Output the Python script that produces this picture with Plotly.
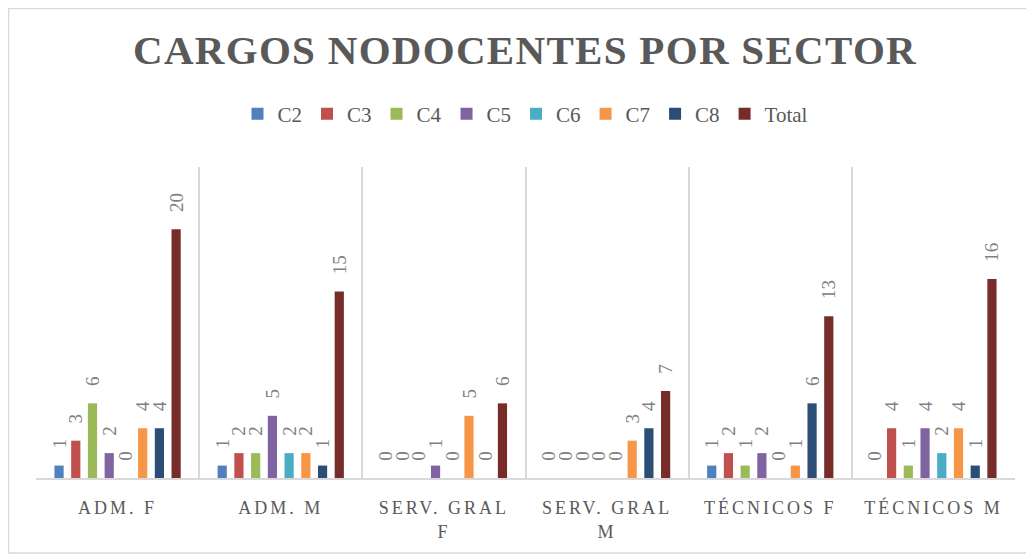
import plotly.graph_objects as go

# categories and series
sectores = ["ADM. F", "ADM. M", "SERV. GRAL F", "SERV. GRAL M", "TÉCNICOS F", "TÉCNICOS M"]
etiquetas = ["ADM. F", "ADM. M", "SERV. GRAL<br>F", "SERV. GRAL<br>M", "TÉCNICOS F", "TÉCNICOS M"]

c2 = [1, 1, 0, 0, 1, 0]
c3 = [3, 2, 0, 0, 2, 4]
c4 = [6, 2, 0, 0, 1, 1]
c5 = [2, 5, 1, 0, 2, 4]
c6 = [0, 2, 0, 0, 0, 2]
c7 = [4, 2, 5, 3, 1, 4]
c8 = [4, 1, 0, 4, 6, 1]
total = [20, 15, 6, 7, 13, 16]

series = [
    ("C2", c2, "#4F81BD"),
    ("C3", c3, "#C0504D"),
    ("C4", c4, "#9BBB59"),
    ("C5", c5, "#8064A2"),
    ("C6", c6, "#4BACC6"),
    ("C7", c7, "#F79646"),
    ("C8", c8, "#2C4D75"),
    ("Total", total, "#772C2A"),
]

SERIF = "Liberation Serif, DejaVu Serif, serif"
GRIS = "#595959"
PAD = "\u00a0\u00a0\u00a0"  # extra gap between bar top and its label

fig = go.Figure()
for nombre, vals, color in series:
    fig.add_trace(go.Bar(
        name=nombre, x=sectores, y=vals,
        marker_color=color, marker_line_width=0,
        text=[PAD + str(v) for v in vals], textposition="outside", textangle=-90,
        cliponaxis=False, constraintext="none",
        textfont=dict(family=SERIF, size=19, color="#808080"),
    ))

# page body adds an 8px offset, margins compensate for it
fig.update_layout(
    width=1034, height=558,
    margin=dict(l=28, r=27, t=159, b=88, autoexpand=False),
    paper_bgcolor="white", plot_bgcolor="white",
    barmode="group", bargap=0.18, bargroupgap=0.45,
    title=dict(
        text='<span style="letter-spacing:1.3px">CARGOS NODOCENTES POR SECTOR</span>',
        x=0.5, xanchor="center", y=0.925, yanchor="middle",
        font=dict(family=SERIF, size=41, color=GRIS, weight="bold"),
    ),
    legend=dict(
        orientation="h", x=0.5, xanchor="center", y=1.17, yanchor="middle",
        font=dict(family=SERIF, size=21, color=GRIS),
        itemwidth=30, tracegroupgap=0,
    ),
    xaxis=dict(
        tickvals=sectores,
        ticktext=['<span style="letter-spacing:3px">%s</span>' % t for t in etiquetas],
        tickson="boundaries", ticks="", ticklabelstandoff=13,
        showgrid=True, gridcolor="#d9d9d9", gridwidth=1.5,
        showline=True, linecolor="#d9d9d9", linewidth=1.5,
        tickfont=dict(family=SERIF, size=18, color=GRIS),
    ),
    yaxis=dict(range=[0, 25], visible=False),
    shapes=[dict(
        type="rect", xref="paper", yref="paper",
        x0=-0.0281, x1=1.0123, y0=-0.241, y1=1.5096,
        line=dict(color="#d9d9d9", width=1.5), fillcolor="rgba(0,0,0,0)", layer="below",
    )],
)

fig.write_html("out.html")
